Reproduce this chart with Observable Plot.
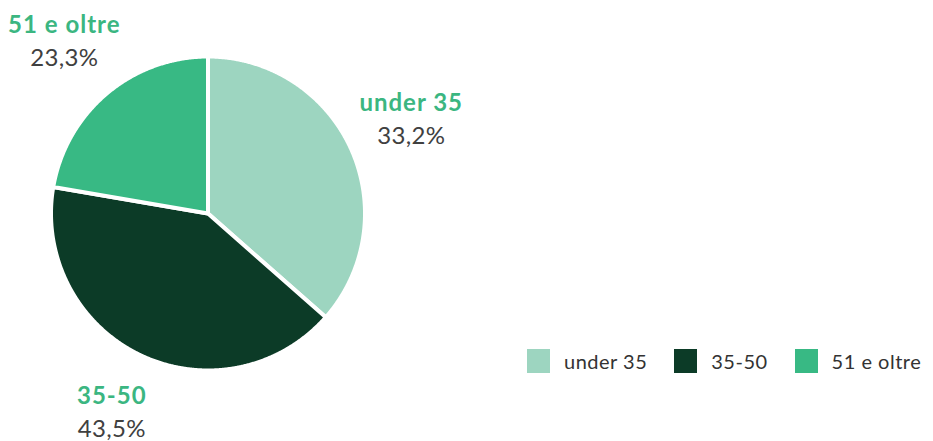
<!DOCTYPE html>
<html><head><meta charset="utf-8">
<script src="https://cdn.jsdelivr.net/npm/d3@7"></script>
<script src="https://cdn.jsdelivr.net/npm/@observablehq/plot@0.6"></script>
<style>
body{margin:0;background:#fff;font-family:Lato,"Open Sans",sans-serif;}
#wrap{position:relative;width:933px;height:441px;overflow:hidden;}
#legend{position:absolute;left:527px;top:349px;display:flex;align-items:center;font-size:20px;letter-spacing:0.5px;color:#333;font-family:Lato,sans-serif;white-space:nowrap;}
#legend .item{display:flex;align-items:center;margin-right:27px;}
#legend .item:last-child{margin-right:0;}
#legend .sw{width:23px;height:24px;margin-right:14px;display:inline-block;}
svg .name{letter-spacing:1px;}
svg .pct{letter-spacing:0.3px;}
</style></head><body><div id="wrap"></div>
<script>
const categories = ["under 35", "35-50", "51 e oltre"];
const percentLabels = [33.2, 43.5, 23.3];
const sliceShares = [36.5, 41.2, 22.3];
const colors = ["#9dd5c0", "#0c3b27", "#38b984"];

const fmt = v => v.toFixed(1).replace(".", ",") + "%";
const arcs = d3.pie().sort(null).value((d, i) => sliceShares[i])(categories);
const pts = [];
arcs.forEach(a => {
  pts.push({cat: a.data, x: 0, y: 0});
  const n = Math.ceil((a.endAngle - a.startAngle) / 0.005);
  for (let k = 0; k <= n; k++) {
    const t = a.startAngle + (a.endAngle - a.startAngle) * k / n;
    pts.push({cat: a.data, x: Math.sin(t), y: Math.cos(t)});
  }
});
const labels = arcs.map((a, i) => {
  const m = (a.startAngle + a.endAngle) / 2;
  return {cat: a.data, x: 1.42 * Math.sin(m), y: 1.42 * Math.cos(m), pct: fmt(percentLabels[i])};
});

const chart = Plot.plot({
  width: 933, height: 441,
  marginLeft: 50.5, marginRight: 568.5, marginTop: 56, marginBottom: 71,
  x: {domain: [-1, 1], axis: null},
  y: {domain: [-1, 1], axis: null},
  color: {domain: categories, range: colors},
  style: {fontFamily: "Lato, sans-serif", background: "white"},
  marks: [
    Plot.line(pts, {x: "x", y: "y", z: "cat", fill: "cat", stroke: "white", strokeWidth: 4, curve: "linear-closed"}),
    Plot.text(labels, {x: "x", y: "y", text: "cat", dy: -18, fill: "#3bb681", fontWeight: "bold", fontSize: 24, className: "name"}),
    Plot.text(labels, {x: "x", y: "y", text: "pct", dy: 15, fill: "#404040", fontSize: 24, className: "pct"})
  ]
});
const wrap = document.getElementById("wrap");
wrap.appendChild(chart);

const legend = d3.select(wrap).append("div").attr("id", "legend");
const items = legend.selectAll("div").data(categories).join("div").attr("class", "item");
items.append("span").attr("class", "sw").style("background", (d, i) => colors[i]);
items.append("span").text(d => d);
</script></body></html>
